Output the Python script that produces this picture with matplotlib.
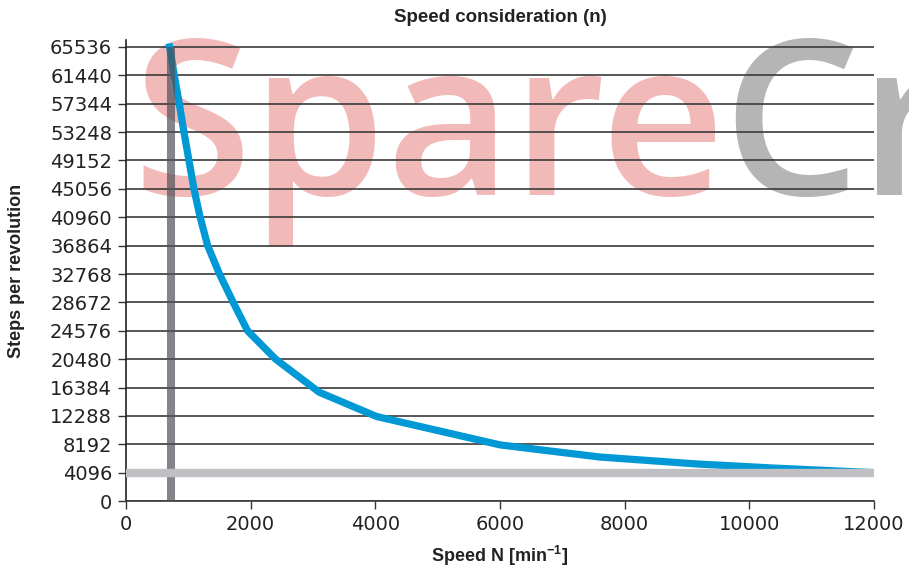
import matplotlib.pyplot as plt

# steps per revolution and the speed
steps = [65536, 61440, 57344, 53248, 49152, 45056, 40960, 36864, 32768,
         28672, 24576, 20480, 15700, 12200, 8100, 6350, 5350, 4750, 4096]
speed = [700, 775, 855, 930, 1010, 1090, 1190, 1310, 1500,
         1720, 1950, 2400, 3100, 4020, 6000, 7600, 9150, 10400, 12000]

speed_limit = 720      # vertical gray line
steps_limit = 4096     # horizontal light gray line

y_ticks = [0, 4096, 8192, 12288, 16384, 20480, 24576, 28672, 32768,
           36864, 40960, 45056, 49152, 53248, 57344, 61440, 65536]
x_ticks = [0, 2000, 4000, 6000, 8000, 10000, 12000]

plt.rcParams['mathtext.fontset'] = 'custom'
plt.rcParams['mathtext.rm'] = 'Liberation Sans:bold'
plt.rcParams['mathtext.default'] = 'rm'

fig = plt.figure(figsize=(9.09, 5.69), dpi=100)
ax = fig.add_axes([0.1386, 0.1195, 0.8229, 0.8102])
ax.set_facecolor('none')

# watermark behind the axes
fig.text(0.146, 1 - 195 / 569, 'Spare', fontsize=156, family='Open Sans',
         weight='semibold', color='#f2b9b9', zorder=-1, va='baseline')
fig.text(0.795, 1 - 195 / 569, 'Cr', fontsize=156, family='Open Sans',
         weight='semibold', color='#b5b5b5', zorder=-1, va='baseline')

for y in y_ticks:
    ax.axhline(y, color='#3a3a3a', lw=1.2, zorder=1)

ax.plot(speed, steps, color='#0099d5', lw=5.2, solid_joinstyle='round', zorder=3)
ax.plot([speed_limit, speed_limit], [0, 65536], color='#505258', lw=5.8,
        alpha=0.7, solid_capstyle='butt', zorder=4)
ax.plot([0, 12000], [steps_limit, steps_limit], color='#c0c0c4', lw=6,
        solid_capstyle='butt', zorder=4)

ax.set_xlim(0, 12000)
ax.set_ylim(0, 66546)
ax.set_xticks(x_ticks)
ax.set_yticks(y_ticks)
ax.spines['top'].set_visible(False)
ax.spines['right'].set_visible(False)
ax.spines['left'].set_color('#222222')
ax.spines['bottom'].set_color('#3a3a3a')
ax.spines['left'].set_linewidth(1.2)
ax.spines['bottom'].set_linewidth(1.2)
ax.tick_params(axis='y', direction='out', length=6, width=1, color='#333333',
               pad=4, labelsize=14, labelcolor='#222222')
ax.tick_params(axis='x', direction='out', length=6, width=1, color='#333333',
               pad=4, labelsize=14, labelcolor='#222222')
for lab in ax.get_xticklabels() + ax.get_yticklabels():
    lab.set_family('DejaVu Sans')

ax.set_title('Speed consideration (n)', fontsize=13.5, weight='bold',
             family='Liberation Sans', color='#222222', pad=13)
ax.set_ylabel('Steps per revolution', fontsize=13, weight='bold',
              family='Liberation Sans', color='#222222', labelpad=18)
ax.set_xlabel('Speed N [min$^{-1}$]', fontsize=13, weight='bold',
              family='Liberation Sans', color='#222222', labelpad=7)

plt.savefig('out.png', dpi=100)
